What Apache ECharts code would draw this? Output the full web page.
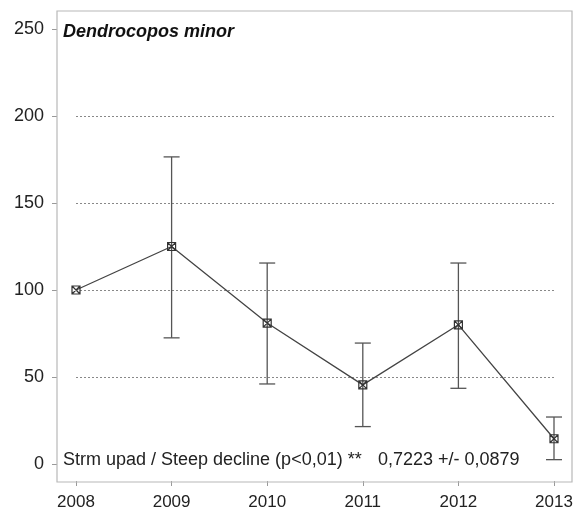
<!DOCTYPE html>
<html>
<head>
<meta charset="utf-8">
<script src="https://cdn.jsdelivr.net/npm/echarts@6/dist/echarts.min.js"></script>
<style>html,body{margin:0;padding:0;background:#fff}#c{width:576px;height:511px}</style>
</head>
<body>
<div id="c"></div>
<script>
const years = [2008, 2009, 2010, 2011, 2012, 2013];
const index = [100, 125, 81, 45.5, 80, 14.5];
const lower = [100, 72.5, 46, 21.5, 43.5, 2.5];
const upper = [100, 176.5, 115.5, 69.5, 115.5, 27];
const yTicks = [0, 50, 100, 150, 200, 250];
const title = 'Dendrocopos minor';
const trendText = 'Strm upad / Steep decline (p<0,01) **';
const slopeText = '0,7223 +/- 0,0879';

const chart = echarts.init(document.getElementById('c'), null, {renderer: 'canvas'});
const lineData = years.map((y, i) => [y, index[i]]);
const errData = years.map((y, i) => [y, lower[i], upper[i]]);
const txt = '#222';
const font = 'Liberation Sans, Arial, sans-serif';

chart.setOption({
  backgroundColor: '#fff',
  animation: false,
  graphic: [
    {type: 'rect', shape: {x: 57, y: 11, width: 515, height: 471}, style: {fill: 'none', stroke: '#b8b8b8', lineWidth: 1.2}, z: 1},
    {type: 'text', left: 63, top: 23, style: {text: title, font: 'italic bold 18px ' + font, fill: '#111'}, z: 10},
    {type: 'text', left: 63, top: 451, style: {text: trendText, font: '18px ' + font, fill: txt}, z: 10},
    {type: 'text', left: 378, top: 451, style: {text: slopeText, font: '18px ' + font, fill: txt}, z: 10}
  ],
  grid: [
    {left: 76, right: 22, top: 29, bottom: 47},
    {left: 76, right: 22, top: 29, bottom: 29}
  ],
  xAxis: [
    {
      gridIndex: 0, type: 'value', min: years[0], max: years[years.length - 1], interval: 1,
      show: false
    },
    {
      gridIndex: 1, type: 'value', min: years[0], max: years[years.length - 1], interval: 1,
      axisLine: {show: false},
      axisTick: {show: true, length: 5, lineStyle: {color: '#999'}},
      splitLine: {show: false},
      axisLabel: {color: txt, fontSize: 17, fontFamily: font, margin: 13, formatter: v => String(v)}
    }
  ],
  yAxis: [
    {
      gridIndex: 0, type: 'value', min: yTicks[0], max: yTicks[yTicks.length - 1], interval: 50,
      offset: 19,
      axisLine: {show: false},
      axisTick: {show: true, length: 5, lineStyle: {color: '#999'}},
      axisLabel: {color: txt, fontSize: 18, fontFamily: font, margin: 13},
      splitLine: {show: true, showMinLine: false, showMaxLine: false, lineStyle: {color: '#888', type: [2, 2], width: 1}}
    },
    {
      gridIndex: 1, type: 'value', min: 0, max: 1, show: false
    }
  ],
  series: [
    {
      type: 'custom',
      xAxisIndex: 0, yAxisIndex: 0,
      data: errData,
      z: 3,
      renderItem: function (params, api) {
        const x = api.coord([api.value(0), api.value(1)])[0];
        const lo = api.coord([api.value(0), api.value(1)])[1];
        const hi = api.coord([api.value(0), api.value(2)])[1];
        if (Math.abs(lo - hi) < 1) return null;
        const w = 8;
        const st = {stroke: '#555', lineWidth: 1.3};
        return {type: 'group', children: [
          {type: 'line', shape: {x1: x, y1: lo, x2: x, y2: hi}, style: st},
          {type: 'line', shape: {x1: x - w, y1: lo, x2: x + w, y2: lo}, style: st},
          {type: 'line', shape: {x1: x - w, y1: hi, x2: x + w, y2: hi}, style: st}
        ]};
      }
    },
    {
      type: 'line',
      xAxisIndex: 0, yAxisIndex: 0,
      data: lineData,
      z: 4,
      lineStyle: {color: '#444', width: 1.3},
      symbol: 'path://M0,0H10V10H0ZM0,0L10,10M10,0L0,10',
      symbolSize: 8,
      itemStyle: {color: 'rgba(255,255,255,0)', borderColor: '#333', borderWidth: 1.2}
    }
  ]
});
</script>
</body>
</html>
